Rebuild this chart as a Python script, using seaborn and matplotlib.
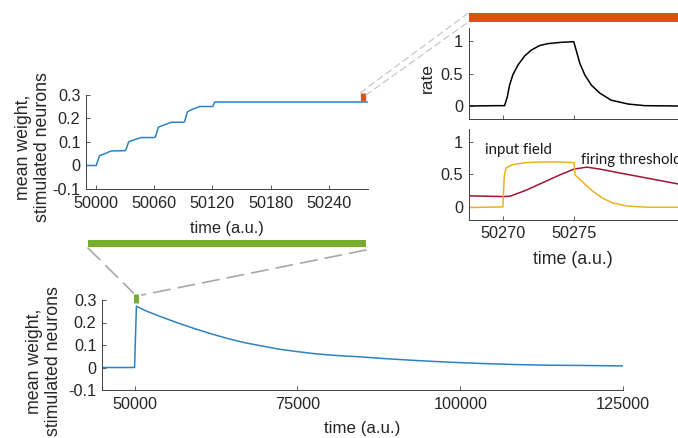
import matplotlib
matplotlib.use("Agg")
import matplotlib.pyplot as plt
import numpy as np
import pandas as pd
import seaborn as sns
from matplotlib.patches import Rectangle, ConnectionPatch

# ---------------- data ----------------
# zoomed learning phase (top-left)
step_t = [49990, 50000.5, 50004, 50008, 50016, 50030, 50031, 50034, 50040, 50047,
          50060.5, 50061.5, 50064.5, 50070, 50078, 50090.5, 50091.5, 50094.5,
          50100, 50107, 50120.5, 50122.5, 50280]
step_w = [0.0, 0.0, 0.042, 0.048, 0.062, 0.063, 0.066, 0.101, 0.110, 0.119,
          0.119, 0.122, 0.163, 0.172, 0.184, 0.184, 0.187, 0.229,
          0.240, 0.251, 0.251, 0.270, 0.270]

# long time course (bottom)
long_t = [45000, 50000, 50280, 51630, 54180, 56730, 59290, 61840, 64390, 66940,
          69490, 72040, 74590, 77140, 79690, 82240, 84290, 88115, 93240, 98360,
          103480, 108600, 113730, 118850, 125000]
long_w = [0.0, 0.0, 0.272, 0.253, 0.224, 0.197, 0.172, 0.149, 0.128, 0.110,
          0.096, 0.082, 0.072, 0.063, 0.056, 0.051, 0.048, 0.040, 0.031, 0.0235,
          0.0176, 0.013, 0.010, 0.009, 0.007]

# single stimulation (right)
rate_t = [50267.6, 50269.4, 50270.12, 50270.31, 50270.47, 50270.7, 50271.06, 50271.53,
          50272.0, 50272.58, 50273.17, 50274.11, 50274.98, 50275.17, 50275.4,
          50275.75, 50276.22, 50276.8, 50277.6, 50278.8, 50279.98, 50282.3]
rate_v = [0.0, 0.005, 0.005, 0.14, 0.32, 0.48, 0.63, 0.77,
          0.86, 0.93, 0.96, 0.98, 0.99, 0.84, 0.66,
          0.48, 0.32, 0.20, 0.09, 0.03, 0.005, 0.0]

input_t = [50267.6, 50270.0, 50270.1, 50270.23, 50270.7, 50271.64, 50272.8, 50274.0,
           50275.0, 50275.07, 50275.6, 50276.3, 50277.0, 50277.7, 50278.7, 50280.1, 50282.3]
input_v = [-0.015, -0.005, 0.48, 0.60, 0.65, 0.68, 0.69, 0.69,
           0.68, 0.49, 0.38, 0.24, 0.13, 0.057, 0.01, -0.01, -0.01]

thr_t = [50267.6, 50270.0, 50270.5, 50271.6, 50272.8, 50274.0, 50275.0, 50275.9,
         50276.8, 50278.2, 50279.9, 50281.1, 50282.3]
thr_v = [0.166, 0.155, 0.16, 0.25, 0.37, 0.49, 0.58, 0.61,
         0.58, 0.52, 0.45, 0.40, 0.35]

tl_xticks = [50000, 50060, 50120, 50180, 50240]
w_yticks = [-0.1, 0, 0.1, 0.2, 0.3]
w_ylabels = ["-0.1", "0", "0.1", "0.2", "0.3"]
b_xticks = [50000, 75000, 100000, 125000]
r_xticks = [50270, 50275]
r_yticks = [0, 0.5, 1]
r_ylabels = ["0", "0.5", "1"]

# ---------------- style ----------------
sns.set_theme(style="ticks")
plt.rcParams["font.family"] = ["Liberation Sans", "DejaVu Sans"]
plt.rcParams.update({
    "xtick.direction": "in", "ytick.direction": "in",
    "xtick.major.size": 3, "ytick.major.size": 3,
    "xtick.major.width": 0.6, "ytick.major.width": 0.6,
    "axes.linewidth": 0.7,
    "axes.edgecolor": "#404040",
    "xtick.color": "#404040", "ytick.color": "#404040",
    "xtick.labelcolor": "#262626", "ytick.labelcolor": "#262626",
    "axes.labelcolor": "#262626",
    "xtick.labelsize": 11.7, "ytick.labelsize": 11.7,
})

BLUE = "#2c83c3"
ORANGE = "#D95319"
GREEN = "#77AC30"
YELLOW = "#EDB120"
RED = "#A2142F"

W, H = 678, 438
fig = plt.figure(figsize=(W / 100, H / 100), dpi=100)


def px_axes(x0, x1, y0, y1):
    return fig.add_axes([x0 / W, 1 - y1 / H, (x1 - x0) / W, (y1 - y0) / H])


ax_tl = px_axes(86, 367.7, 95, 189)
ax_tr = px_axes(468.7, 678, 28, 119)
ax_br = px_axes(468.7, 678, 129, 219.5)
ax_b = px_axes(102, 623.3, 300, 390)

for ax in (ax_tl, ax_tr, ax_br, ax_b):
    sns.despine(ax=ax)
    ax.tick_params(axis="x", pad=5)
    ax.tick_params(axis="y", pad=4)

# ---------- top-left ----------
df_tl = pd.DataFrame({"t": step_t, "w": step_w})
sns.lineplot(data=df_tl, x="t", y="w", ax=ax_tl, color=BLUE, lw=1.1,
             sort=False, estimator=None)
ax_tl.set_xlim(49990, 50280)
ax_tl.set_ylim(-0.1, 0.3)
ax_tl.set_xticks(tl_xticks)
ax_tl.set_xticklabels([str(v) for v in tl_xticks])
ax_tl.set_yticks(w_yticks)
ax_tl.set_yticklabels(w_ylabels)
ax_tl.set_xlabel("time (a.u.)", fontsize=11.8)
ax_tl.xaxis.set_label_coords(0.5, -0.34)
ax_tl.set_ylabel("mean weight,\nstimulated neurons", fontsize=12.8, linespacing=1.15)
ax_tl.yaxis.set_label_coords(-0.124, 0.447)
# orange marker of the right zoom
ax_tl.plot([50275, 50275], [0.275, 0.31], color=ORANGE, lw=3.8,
           solid_capstyle="butt", clip_on=False)
# green bar under the panel
ax_tl.add_patch(Rectangle((0.006, -0.617), 0.987, 0.071, transform=ax_tl.transAxes,
                          color=GREEN, clip_on=False, lw=0))

# ---------- top-right (rate) ----------
df_rate = pd.DataFrame({"t": rate_t, "v": rate_v})
sns.lineplot(data=df_rate, x="t", y="v", ax=ax_tr, color="black", lw=1.1,
             sort=False, estimator=None)
ax_tr.set_xlim(50267.6, 50282.3)
ax_tr.set_ylim(-0.2, 1.2)
ax_tr.set_xticks(r_xticks)
ax_tr.set_xticklabels([])
ax_tr.set_yticks(r_yticks)
ax_tr.set_yticklabels(r_ylabels)
ax_tr.set_xlabel("")
ax_tr.set_ylabel("rate", fontsize=12.5)
ax_tr.yaxis.set_label_coords(-0.161, 0.45)
ax_tr.add_patch(Rectangle((0, 1.069), 1.0, 0.099, transform=ax_tr.transAxes,
                          color=ORANGE, clip_on=False, lw=0))

# ---------- bottom-right (input field, threshold) ----------
df_in = pd.DataFrame({"t": input_t, "v": input_v})
df_th = pd.DataFrame({"t": thr_t, "v": thr_v})
sns.lineplot(data=df_th, x="t", y="v", ax=ax_br, color=RED, lw=1.1,
             sort=False, estimator=None)
sns.lineplot(data=df_in, x="t", y="v", ax=ax_br, color=YELLOW, lw=1.1,
             sort=False, estimator=None)
ax_br.set_xlim(50267.6, 50282.3)
ax_br.set_ylim(-0.2, 1.2)
ax_br.set_xticks(r_xticks)
ax_br.set_xticklabels([str(v) for v in r_xticks])
ax_br.set_yticks(r_yticks)
ax_br.set_yticklabels(r_ylabels)
ax_br.set_ylabel("")
ax_br.set_xlabel("time (a.u.)", fontsize=12.8)
ax_br.xaxis.set_label_coords(0.5, -0.35)
ax_br.text(50271.1, 0.871, "input field", ha="center", va="center",
           fontsize=10.8, family=["Lato", "DejaVu Sans"], color="#1a1a1a")
ax_br.text(50275.5, 0.726, "firing threshold", ha="left", va="center",
           fontsize=10.8, family=["Lato", "DejaVu Sans"], color="#1a1a1a",
           clip_on=False)

# ---------- bottom ----------
df_b = pd.DataFrame({"t": long_t, "w": long_w})
sns.lineplot(data=df_b, x="t", y="w", ax=ax_b, color=BLUE, lw=1.1,
             sort=False, estimator=None)
ax_b.set_xlim(45000, 125000)
ax_b.set_ylim(-0.1, 0.3)
ax_b.set_xticks(b_xticks)
ax_b.set_xticklabels([str(v) for v in b_xticks])
ax_b.set_yticks(w_yticks)
ax_b.set_yticklabels(w_ylabels)
ax_b.set_xlabel("time (a.u.)", fontsize=12.2)
ax_b.xaxis.set_label_coords(0.5, -0.34)
ax_b.set_ylabel("mean weight,\nstimulated neurons", fontsize=12.8, linespacing=1.15)
ax_b.yaxis.set_label_coords(-0.076, 0.32)
ax_b.plot([50294, 50294], [0.285, 0.326], color=GREEN, lw=3.6,
          solid_capstyle="butt", clip_on=False)

# ---------- zoom connectors ----------
for xyA, xyB in [((0.007, -0.628), (49834, 0.331)), ((0.994, -0.649), (51092, 0.322))]:
    con = ConnectionPatch(xyA=xyA, coordsA=ax_tl.transAxes, xyB=xyB, coordsB=ax_b.transData,
                          color="#a8a8a8", lw=1.2, linestyle=(0, (10, 5)))
    fig.add_artist(con)

for xyA, xyB in [((50272.5, 0.31), (0.0, 1.168)), ((50278.2, 0.30), (0.0, 1.069))]:
    con = ConnectionPatch(xyA=xyA, coordsA=ax_tl.transData, xyB=xyB, coordsB=ax_tr.transAxes,
                          color="#c8c8c8", lw=0.9, linestyle=(0, (5, 3.5)))
    fig.add_artist(con)

fig.savefig("out.png", dpi=100)
